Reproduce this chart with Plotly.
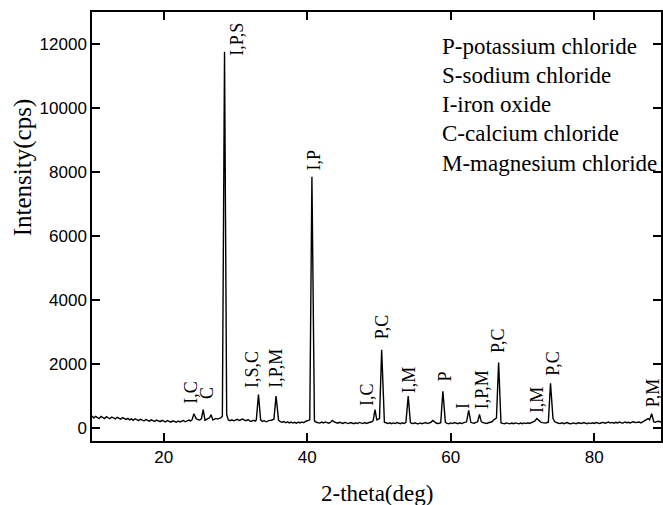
import numpy as np
import plotly.graph_objects as go

# ---- XRD scan: background readings every 0.25 deg from 10.00 to 89.50 ----
scan_start = 10.0
scan_step = 0.25
background_cps = [
    380, 320, 370, 330, 300, 370, 335, 300, 360, 320, 295, 350, 310, 290, 340, 300, 280, 330, 290, 275,
    305, 260, 290, 245, 295, 250, 235, 280, 240, 225, 270, 235, 220, 260, 225, 210, 255, 220, 205, 245,
    225, 195, 240, 205, 190, 230, 200, 185, 225, 195, 220, 240, 200, 230, 255, 225, 265, 285, 305, 265,
    255, 295, 265, 245, 295, 315, 270, 255, 285, 305, 285, 315, 330, 380, 400, 420, 255, 235, 260, 230,
    255, 275, 240, 265, 285, 250, 235, 270, 225, 215, 250, 220, 255, 300, 260, 210, 235, 200, 230, 245,
    250, 280, 320, 300, 250, 205, 185, 205, 170, 200, 165, 190, 160, 185, 155, 190, 165, 195, 170, 210,
    230, 260, 350, 300, 230, 185, 180, 160, 190, 165, 195, 170, 155, 185, 240, 195, 170, 155, 185, 160,
    150, 180, 155, 145, 175, 150, 140, 170, 145, 180, 155, 145, 175, 150, 170, 180, 200, 240, 350, 260,
    300, 400, 250, 185, 170, 145, 170, 140, 165, 145, 175, 150, 140, 170, 145, 180, 220, 185, 155, 145,
    170, 145, 135, 165, 140, 160, 175, 145, 165, 185, 240, 185, 155, 145, 170, 200, 250, 180, 150, 140,
    165, 145, 175, 150, 140, 170, 145, 165, 175, 200, 230, 185, 165, 155, 180, 200, 230, 205, 175, 155,
    145, 170, 175, 200, 260, 320, 280, 200, 165, 150, 140, 165, 145, 135, 160, 140, 165, 145, 135, 160,
    140, 165, 145, 170, 150, 175, 190, 220, 250, 230, 200, 175, 165, 160, 185, 200, 260, 300, 200, 165,
    155, 145, 170, 140, 160, 175, 145, 135, 165, 145, 140, 170, 150, 145, 175, 155, 140, 165, 145, 170,
    150, 175, 155, 145, 170, 180, 155, 175, 190, 160, 180, 155, 185, 165, 190, 170, 160, 195, 170, 185,
    165, 190, 200, 175, 180, 195, 165, 200, 210, 250, 300, 260, 220, 195, 185, 210, 215, 195, 215,
]

# ---- diffraction peaks: position, apex intensity, half base width ----
peak_2theta = [24.2, 25.5, 26.6, 28.47, 33.2, 35.65, 40.65, 49.44, 50.37, 54.07,
               58.9, 62.5, 64.0, 66.67, 72.0, 73.9, 88.0]
peak_cps = [450, 580, 420, 11760, 1050, 1000, 7850, 580, 2450, 1000,
            1150, 560, 430, 2050, 300, 1400, 450]
peak_halfwidth = [0.25, 0.25, 0.25, 0.3, 0.3, 0.3, 0.3, 0.25, 0.3, 0.3,
                  0.3, 0.3, 0.25, 0.3, 0.3, 0.3, 0.3]

# ---- phase labels above the peaks ----
label_text = ["I,C", "C", "I,P,S", "I,S,C", "I,P,M", "I,P", "I,C", "P,C", "I,M",
              "P", "I", "I,P,M", "P,C", "I,M", "P,C", "P,M"]
label_2theta = [23.85, 25.92, 30.1, 32.4, 35.7, 40.97, 48.24, 50.46, 54.17,
                59.17, 61.8, 64.4, 66.67, 72.0, 74.3, 88.2]
label_cps = [700, 860, 11560, 1200, 1200, 7980, 630, 2710, 1045,
             1390, 525, 525, 2290, 420, 1570, 577]

legend_lines = ["P-potassium chloride", "S-sodium chloride", "I-iron oxide",
                "C-calcium chloride", "M-magnesium chloride"]

# assemble the scan trace
bg_x = scan_start + scan_step * np.arange(len(background_cps))
bg_y = np.array(background_cps, dtype=float)
pts = []
for x, y in zip(bg_x, bg_y):
    if all(abs(x - c) > hw for c, hw in zip(peak_2theta, peak_halfwidth)):
        pts.append((x, y))
for c, h, hw in zip(peak_2theta, peak_cps, peak_halfwidth):
    left = bg_y[np.argmin(np.abs(bg_x - (c - hw)))]
    right = bg_y[np.argmin(np.abs(bg_x - (c + hw)))]
    pts += [(c - hw, left), (c, h), (c + hw, right)]
pts.sort()
tx = [p[0] for p in pts]
ty = [p[1] for p in pts]

SERIF = "Liberation Serif, Times New Roman, serif"
SANS = "Liberation Sans, Arial, sans-serif"

fig = go.Figure()
fig.add_trace(go.Scatter(x=tx, y=ty, mode="lines",
                         line=dict(color="black", width=1.4), hoverinfo="skip"))

annotations = []
for t, x, y in zip(label_text, label_2theta, label_cps):
    annotations.append(dict(x=x, y=y, xref="x", yref="y", text=t, showarrow=False,
                            textangle=-90, xanchor="center", yanchor="bottom",
                            font=dict(family=SERIF, size=18, color="black")))

for i, line in enumerate(legend_lines):
    annotations.append(dict(x=0.6124, y=0.9191 - i * 0.0678, xref="paper", yref="paper",
                            text=line, showarrow=False, xanchor="left", yanchor="middle",
                            font=dict(family=SERIF, size=23, color="black")))

annotations.append(dict(x=0.5, y=-0.1235, xref="paper", yref="paper", text="2-theta(deg)",
                        showarrow=False, xanchor="center", yanchor="middle",
                        font=dict(family=SERIF, size=23, color="black")))
annotations.append(dict(x=-0.1208, y=0.6364, xref="paper", yref="paper", text="Intensity(cps)",
                        showarrow=False, xanchor="center", yanchor="middle", textangle=-90,
                        font=dict(family=SERIF, size=25, color="black")))

axis_common = dict(showline=True, linecolor="black", linewidth=1.5, mirror="ticks",
                   ticks="inside", ticklen=8, tickwidth=1.5, tickcolor="black",
                   showgrid=False, zeroline=False,
                   tickfont=dict(family=SANS, size=17, color="black"))

fig.update_layout(
    width=663, height=505,
    margin=dict(l=92, r=0, t=12, b=64),
    paper_bgcolor="white", plot_bgcolor="white",
    showlegend=False,
    xaxis=dict(range=[10, 89.3], tick0=0, dtick=20, **axis_common),
    yaxis=dict(range=[-400, 13000], tick0=0, dtick=2000, tickformat="d", **axis_common),
    annotations=annotations,
)

fig.write_html("out.html")
